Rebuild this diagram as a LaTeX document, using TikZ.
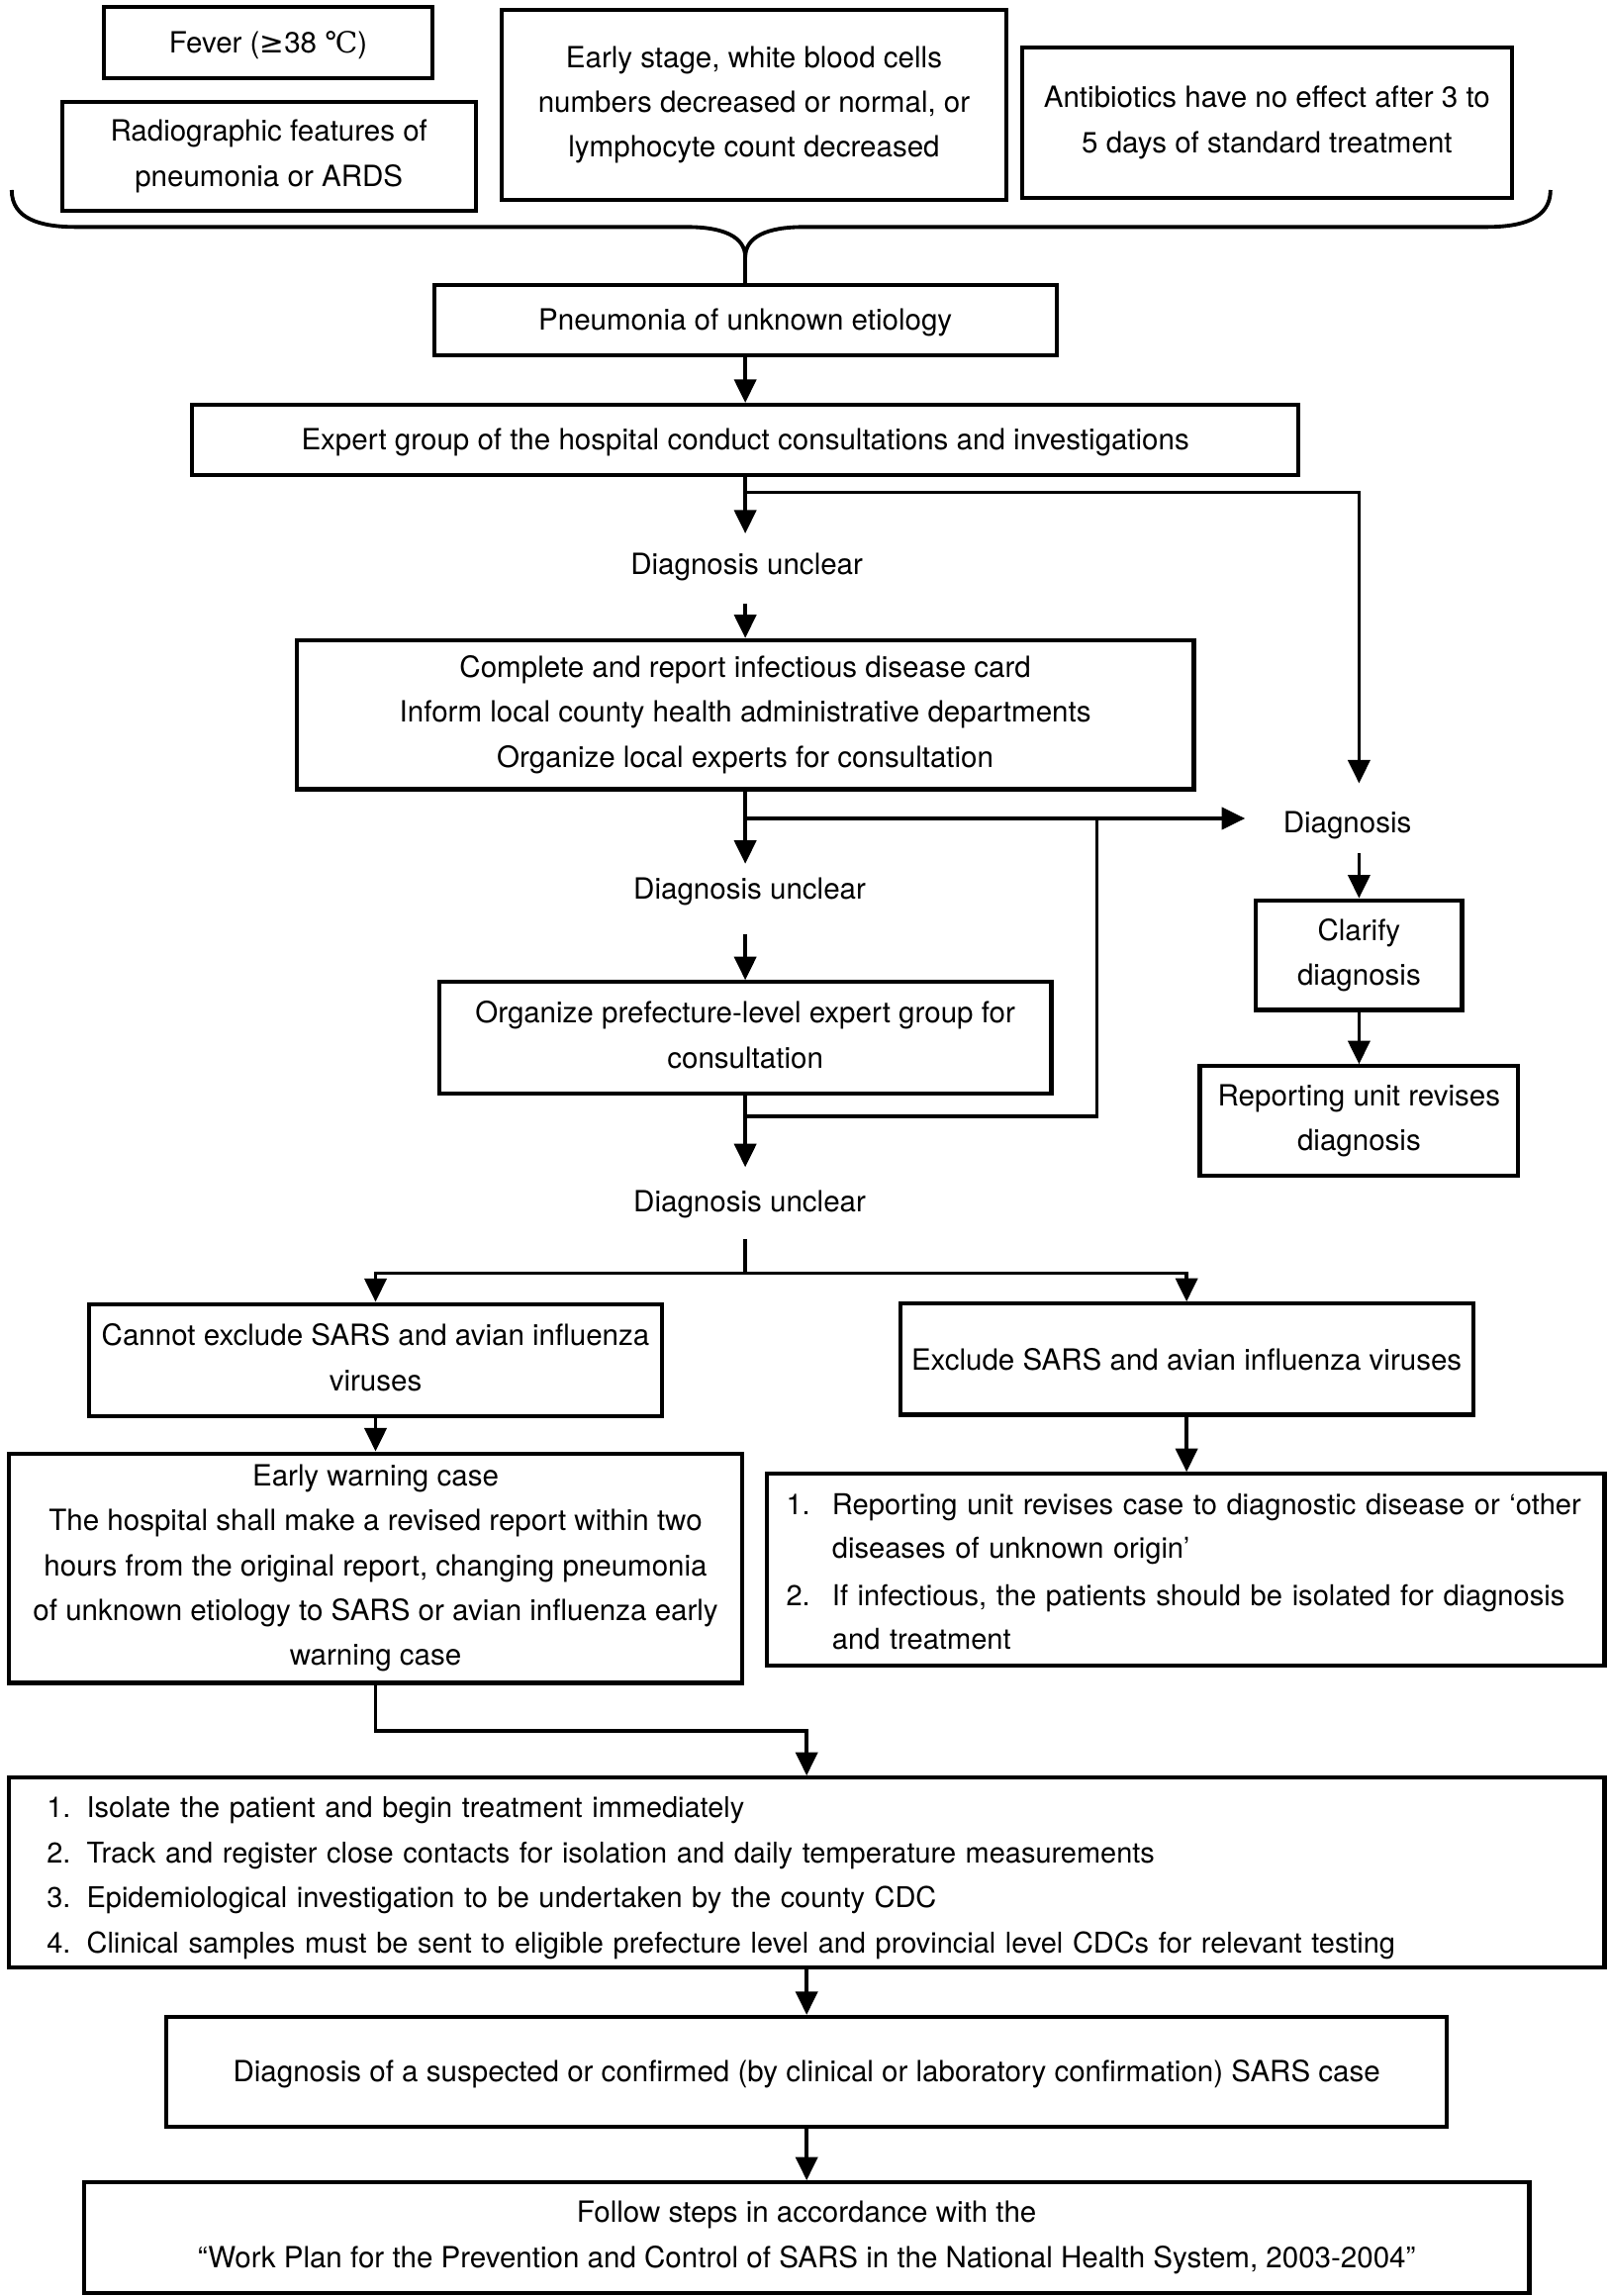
\documentclass[tikz,border=0pt]{standalone}
\usepackage{fontspec}
\setmainfont{TeX Gyre Heros}
\newfontfamily\symf{DejaVu Sans}
\newfontfamily\degf{DejaVu Serif}
\usetikzlibrary{arrows.meta}
\newcommand\fs{\fontsize{20}{30.7}\selectfont}
\newcommand\fsl{\fontsize{19.6}{30.8}\selectfont}
\begin{document}
\begin{tikzpicture}[x=1pt,y=-1pt,
  box/.style={draw, line width=2.8pt, inner sep=0pt, align=center, font=\fs},
  tbox/.style={box, execute at begin node={\rule{0pt}{18.5pt}}, execute at end node={\rule[-4.1pt]{0pt}{4.1pt}}},
  lbox/.style={box, align=left, font=\fsl},
  txt/.style={inner sep=0pt, font=\fs},
  conn/.style={line width=2.4pt},
  brace/.style={line width=2.6pt},
  arr/.style={conn, -{Triangle[length=16pt,width=15pt]}}]
\useasboundingbox (0,0) rectangle (1100,1571);

% top criteria
\node[tbox, minimum width=225pt, minimum height=49pt] (fever) at (183.5,29) {Fever ({\symf ≥}38 {\degf ℃})};
\node[tbox, minimum width=283pt, minimum height=75pt] (radio) at (184,107) {Radiographic features of\\pneumonia or ARDS};
\node[tbox, minimum width=345pt, minimum height=130pt] (early) at (516,71.7) {Early stage, white blood cells\\numbers decreased or normal, or\\lymphocyte count decreased};
\node[tbox, minimum width=335pt, minimum height=103pt] (anti) at (867,84) {Antibiotics have no effect after 3 to\\5 days of standard treatment};

% brace
\coordinate (bl) at (8,130);
\coordinate (br) at (1061,130);
\coordinate (bt) at (510,176);
\draw[brace] (bl) .. controls (8,150) and (28,155.3) .. (52,155.3) -- (470,155.3)
  .. controls (495,155.3) and (510,162) .. (bt)
  .. controls (510,162) and (525,155.3) .. (550,155.3) -- (1017,155.3)
  .. controls (1041,155.3) and (1061,150) .. (br);

\node[tbox, minimum width=426pt, minimum height=48pt] (pn) at (510,219) {Pneumonia of unknown etiology};
\draw[brace] (bt) -- (pn.north);

\node[tbox, minimum width=757pt, minimum height=48pt] (expert) at (510,301) {Expert group of the hospital conduct consultations and investigations};
\draw[arr] (pn.south) -- (expert.north);

\node[txt] (du1) at (511,388) {Diagnosis unclear};
\coordinate (t1) at (510,365);
\draw[arr] (expert.south) -- (t1);
\coordinate (j1) at (510,337);
\coordinate (t2) at (930,536);
\draw[arr] (j1) -| (t2);

\node[tbox, minimum width=614pt, minimum height=102pt] (card) at (510,489) {Complete and report infectious disease card\\Inform local county health administrative departments\\Organize local experts for consultation};
\coordinate (s1) at (510,413);
\draw[arr] (s1) -- (card.north);

% right branch
\node[txt] (dx) at (922,565) {Diagnosis};
\node[tbox, minimum width=141pt, minimum height=75pt] (clar) at (930,653.5) {Clarify\\diagnosis};
\coordinate (s2) at (930,584);
\draw[arr] (s2) -- (clar.north);
\node[tbox, minimum width=218pt, minimum height=75pt] (rep) at (930,767) {Reporting unit revises\\diagnosis};
\draw[arr] (clar.south) -- (rep.north);

% second level
\coordinate (t3) at (510,591);
\draw[arr] (card.south) -- (t3);
\coordinate (j2) at (510,560);
\coordinate (t4) at (852,560);
\draw[arr] (j2) -- (t4);
\node[txt] (du2) at (513,610) {Diagnosis unclear};
\node[tbox, minimum width=419pt, minimum height=76pt] (pref) at (510,710) {Organize prefecture-level expert group for\\consultation};
\coordinate (s3) at (510,639.5);
\draw[arr] (s3) -- (pref.north);
\coordinate (j3) at (510,764);
\coordinate (j4) at (750.5,560);
\draw[conn] (j3) -| (j4);
\coordinate (t5) at (510,798.6);
\draw[arr] (pref.south) -- (t5);
\node[txt] (du3) at (513,824) {Diagnosis unclear};

% split
\node[tbox, minimum width=392pt, minimum height=77pt] (cannot) at (257,930.7) {Cannot exclude SARS and avian influenza\\viruses};
\node[tbox, minimum width=392pt, minimum height=76pt] (excl) at (812,930) {Exclude SARS and avian influenza viruses};
\coordinate (s4) at (510,847.8);
\coordinate (j5) at (510,871);
\draw[conn] (s4) -- (j5);
\draw[arr] (j5) -| (cannot.north);
\draw[arr] (j5) -| (excl.north);

\node[tbox, minimum width=502pt, minimum height=157pt] (ewc) at (257,1073) {Early warning case\\The hospital shall make a revised report within two\\hours from the original report, changing pneumonia\\of unknown etiology to SARS or avian influenza early\\warning case};
\draw[arr] (cannot.south) -- (cannot.south |- ewc.north);

\node[lbox, text width=547pt, inner xsep=13pt, minimum height=131pt] (rlist) at (811.5,1074) {\raisebox{-2.5pt}[\height][\depth]{\fontsize{19.7}{29.6}\selectfont\begin{tabular}{@{}l@{\hspace{15pt}}l@{}}1. & Reporting unit revises case to diagnostic disease or ‘other\\ & diseases of unknown origin’\\[3.5pt] 2. & If infectious, the patients should be isolated for diagnosis\\ & and treatment\end{tabular}}};
\draw[arr] (excl.south) -- (excl.south |- rlist.north);

\node[lbox, text width=1040pt, inner xsep=26pt, minimum height=130pt] (actions) at (552,1281.3) {\raisebox{-2.5pt}[\height][\depth]{\begin{tabular}{@{}l@{\hspace{11pt}}l@{}}1. & Isolate the patient and begin treatment immediately\\ 2. & Track and register close contacts for isolation and daily temperature measurements\\ 3. & Epidemiological investigation to be undertaken by the county CDC\\ 4. & Clinical samples must be sent to eligible prefecture level and provincial level CDCs for relevant testing\end{tabular}}};
\coordinate (j6) at (552,1184.4);
\draw[arr] (ewc.south) |- (j6) -- (j6 |- actions.north);

\node[tbox, minimum width=876pt, minimum height=75pt] (susp) at (552,1417.5) {Diagnosis of a suspected or confirmed (by clinical or laboratory confirmation) SARS case};
\draw[arr] (actions.south) -- (susp.north);

\node[tbox, minimum width=989pt, minimum height=75.5pt] (follow) at (552,1531) {Follow steps in accordance with the\\“Work Plan for the Prevention and Control of SARS in the National Health System, 2003-2004”};
\draw[arr] (susp.south) -- (follow.north);
\end{tikzpicture}
\end{document}
